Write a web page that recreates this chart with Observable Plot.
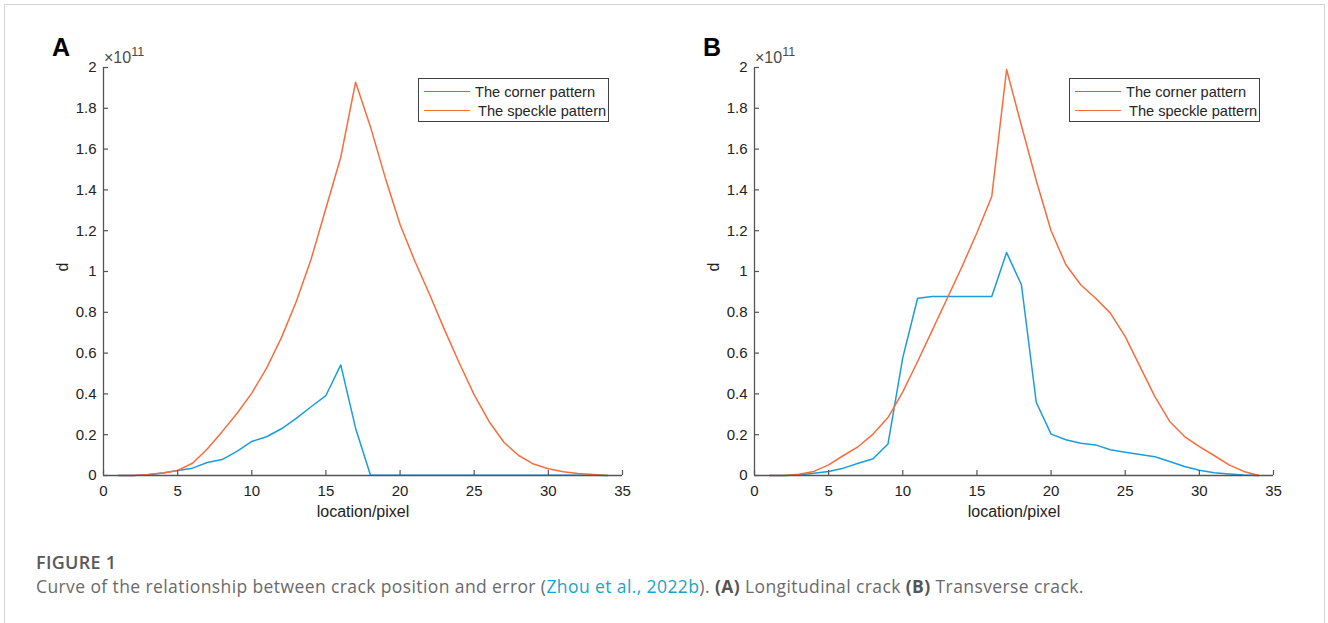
<!DOCTYPE html>
<html>
<head>
<meta charset="utf-8">
<script src="https://cdn.jsdelivr.net/npm/d3@7"></script>
<script src="https://cdn.jsdelivr.net/npm/@observablehq/plot@0.6"></script>
<style>
  html, body { margin: 0; padding: 0; background: #fff; }
  #page { position: relative; width: 1328px; height: 623px; overflow: hidden; font-family: "Liberation Sans", Arial, sans-serif; }
  #frame { position: absolute; left: 4px; top: 4px; width: 1319px; height: 640px; border: 1px solid #d4d4d4; border-bottom: none; }
  .panel { position: absolute; top: 30px; }
  .tag { position: absolute; font: bold 25px "Liberation Sans", Arial, sans-serif; color: #000; }
  .expo { position: absolute; font: 16px "Liberation Sans", Arial, sans-serif; color: #4a4a4a; }
  .expo sup { font-size: 12.5px; position: relative; top: -1px; }
  .legend { position: absolute; width: 189px; height: 42px; border: 1px solid #404040; background: #fff; font: 14.6px "Liberation Sans", Arial, sans-serif; color: #262626; }
  .legend .sw { position: absolute; left: 5px; width: 46px; height: 0; border-top: 1.5px solid; }
  .legend .lab { position: absolute; white-space: nowrap; line-height: 18px; }
  .cap-title { position: absolute; left: 36px; top: 550px; font: 600 18px "Open Sans", "Noto Sans", sans-serif; color: #595959; letter-spacing: 0.3px; }
  .cap-text { position: absolute; left: 36px; top: 574px; font: 17.5px "Open Sans", "Noto Sans", sans-serif; color: #6a6a6a; white-space: nowrap; letter-spacing: 0.4px; }
  .cap-text a { color: #17a6c6; text-decoration: none; }
  .cap-text b { color: #555; font-weight: 700; }
</style>
</head>
<body>
<div id="page">
  <div id="frame"></div>
</div>
<script>
// pixel positions along the crack
const pixelLocation = d3.range(1, 35);

// error d (×10^11) — longitudinal crack
const cornerLongitudinal = [0, 0, 0.004, 0.012, 0.025, 0.036, 0.064, 0.078, 0.118, 0.167,
  0.19, 0.229, 0.28, 0.337, 0.392, 0.542, 0.232, 0.002, 0.001, 0.001,
  0.001, 0.001, 0.001, 0.001, 0.001, 0.001, 0.001, 0.001, 0.001, 0.001,
  0.001, 0.001, 0.001, 0];
const speckleLongitudinal = [0, 0, 0.005, 0.012, 0.025, 0.06, 0.13, 0.215, 0.304, 0.404,
  0.526, 0.676, 0.853, 1.06, 1.31, 1.56, 1.928, 1.71, 1.46, 1.23,
  1.05, 0.886, 0.714, 0.55, 0.395, 0.265, 0.163, 0.098, 0.056, 0.033,
  0.018, 0.01, 0.005, 0];

// error d (×10^11) — transverse crack
const cornerTransverse = [0, 0, 0.003, 0.011, 0.02, 0.036, 0.06, 0.082, 0.154, 0.578,
  0.869, 0.877, 0.877, 0.877, 0.877, 0.878, 1.093, 0.935, 0.359, 0.203,
  0.175, 0.158, 0.15, 0.126, 0.114, 0.103, 0.092, 0.069, 0.044, 0.026,
  0.013, 0.007, 0.002, 0];
const speckleTransverse = [0, 0, 0.006, 0.02, 0.052, 0.098, 0.142, 0.203, 0.284, 0.41,
  0.559, 0.714, 0.869, 1.025, 1.19, 1.368, 1.99, 1.716, 1.446, 1.2,
  1.033, 0.935, 0.869, 0.796, 0.681, 0.534, 0.387, 0.265, 0.191, 0.142,
  0.098, 0.052, 0.02, 0];

const xTicks = [0, 5, 10, 15, 20, 25, 30, 35];
const yTicks = [0, 0.2, 0.4, 0.6, 0.8, 1, 1.2, 1.4, 1.6, 1.8, 2];
const seriesNames = ["The corner pattern", "The speckle pattern"];
const seriesColors = ["#1a9ddb", "#f76d3e"];

const panels = [
  {tag: "A", left: 40, corner: cornerLongitudinal, speckle: speckleLongitudinal},
  {tag: "B", left: 691, corner: cornerTransverse, speckle: speckleTransverse}
];

const page = document.getElementById("page");
const axisColor = "#555";
const textColor = "#222";

for (const p of panels) {
  const rows = [];
  pixelLocation.forEach((x, i) => rows.push({x, d: p.corner[i], s: seriesNames[0]}));
  pixelLocation.forEach((x, i) => rows.push({x, d: p.speckle[i], s: seriesNames[1]}));

  const chart = Plot.plot({
    width: 620,
    height: 510,
    marginLeft: 63,
    marginRight: 38,
    marginTop: 37,
    marginBottom: 65,
    style: {fontFamily: "'Liberation Sans', Arial, sans-serif", color: textColor, background: "transparent", overflow: "visible"},
    x: {domain: [0, 35]},
    y: {domain: [0, 2]},
    color: {domain: seriesNames, range: seriesColors},
    marks: [
      Plot.line(rows, {x: "x", y: "d", z: "s", stroke: "s", strokeWidth: 1.5}),
      // inward tick marks (MATLAB style)
      Plot.axisY({ticks: yTicks, tickSize: -5, tickFormat: () => "", label: null, stroke: axisColor, strokeWidth: 1.2}),
      Plot.axisX({ticks: xTicks, tickSize: -5, tickFormat: () => "", label: null, stroke: axisColor, strokeWidth: 1.2}),
      // tick labels
      Plot.text(yTicks, {x: 0, y: d => d, text: d => String(d), textAnchor: "end", dx: -7, fontSize: 15, fill: textColor}),
      Plot.text(xTicks, {x: d => d, y: 0, text: d => String(d), lineAnchor: "top", dy: 10, fontSize: 15, fill: textColor}),
      Plot.ruleX([0], {stroke: axisColor, strokeWidth: 1.3}),
      Plot.ruleY([0], {stroke: axisColor, strokeWidth: 1.3}),
      Plot.text(["location/pixel"], {frameAnchor: "bottom", dy: 41, fontSize: 16, fill: textColor}),
      Plot.text(["d"], {frameAnchor: "left", dx: -41, rotate: -90, fontSize: 16, fill: textColor})
    ]
  });
  chart.classList.add("panel");
  chart.style.left = p.left + "px";
  page.appendChild(chart);

  const tag = document.createElement("div");
  tag.className = "tag";
  tag.textContent = p.tag;
  tag.style.left = (p.left + 12) + "px";
  tag.style.top = "33px";
  page.appendChild(tag);

  const expo = document.createElement("div");
  expo.className = "expo";
  expo.innerHTML = "×10<sup>11</sup>";
  expo.style.left = (p.left + 64) + "px";
  expo.style.top = "46px";
  page.appendChild(expo);

  const legend = document.createElement("div");
  legend.className = "legend";
  legend.style.left = (p.left + 378) + "px";
  legend.style.top = "78px";
  seriesNames.forEach((name, i) => {
    const sw = document.createElement("div");
    sw.className = "sw";
    sw.style.borderTopColor = seriesColors[i];
    sw.style.top = (12 + i * 19) + "px";
    legend.appendChild(sw);
    const lab = document.createElement("div");
    lab.className = "lab";
    lab.textContent = name;
    lab.style.left = (i === 0 ? 56 : 59) + "px";
    lab.style.top = (4 + i * 19) + "px";
    legend.appendChild(lab);
  });
  page.appendChild(legend);
}

const capTitle = document.createElement("div");
capTitle.className = "cap-title";
capTitle.textContent = "FIGURE 1";
page.appendChild(capTitle);

const capText = document.createElement("div");
capText.className = "cap-text";
capText.innerHTML = 'Curve of the relationship between crack position and error (<a>Zhou et al., 2022b</a>). <b>(A)</b> Longitudinal crack <b>(B)</b> Transverse crack.';
page.appendChild(capText);
</script>
</body>
</html>
